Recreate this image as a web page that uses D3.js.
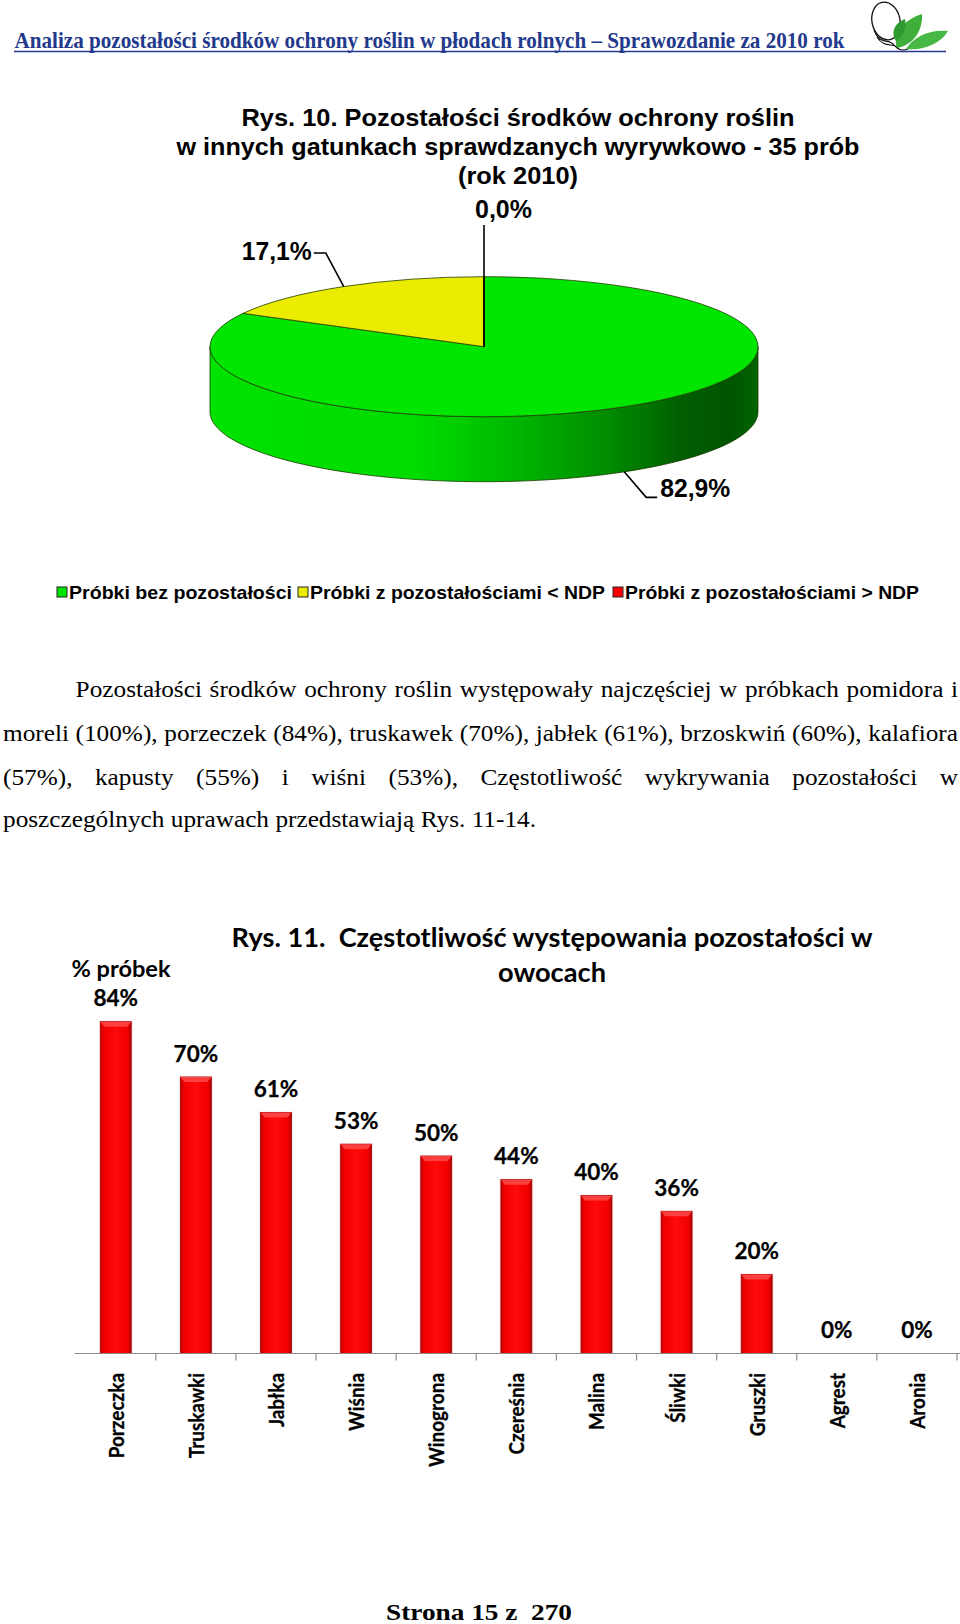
<!DOCTYPE html>
<html><head><meta charset="utf-8">
<script src="https://cdn.jsdelivr.net/npm/d3@7/dist/d3.min.js"></script>
<style>body{margin:0;background:#fff}svg{display:block}</style>
</head><body>
<svg id="c" width="960" height="1624"></svg>
<script>
// ---------------- DATA ----------------
const headerText = "Analiza pozostałości środków ochrony roślin w płodach rolnych – Sprawozdanie za 2010 rok";
const pieTitle = ["Rys. 10. Pozostałości środków ochrony roślin", "w innych gatunkach sprawdzanych wyrywkowo - 35 prób", "(rok 2010)"];
const pieLabels = ["Próbki bez pozostałości", "Próbki z pozostałościami < NDP", "Próbki z pozostałościami > NDP"];
const pieValues = [82.9, 17.1, 0.0];
const pieValueText = ["82,9%", "17,1%", "0,0%"];
const pieColors = ["#00E600", "#ECEC00", "#FF0000"];

const paragraphLines = [
  "Pozostałości środków ochrony roślin występowały najczęściej w próbkach pomidora i",
  "moreli (100%), porzeczek (84%), truskawek (70%), jabłek (61%), brzoskwiń (60%), kalafiora",
  "(57%), kapusty (55%) i wiśni (53%), Częstotliwość wykrywania pozostałości w",
  "poszczególnych uprawach przedstawiają Rys. 11-14."
];

const barTitle = ["Rys. 11.  Częstotliwość występowania pozostałości w", "owocach"];
const yAxisTitle = "% próbek";
const fruitCategories = ["Porzeczka", "Truskawki", "Jabłka", "Wiśnia", "Winogrona", "Czereśnia", "Malina", "Śliwki", "Gruszki", "Agrest", "Aronia"];
const fruitValues = [84, 70, 61, 53, 50, 44, 40, 36, 20, 0, 0];
const footerText = "Strona 15 z  270";

// ---------------- SETUP ----------------
const svg = d3.select("#c");
const defs = svg.append("defs");
const SANS = "'Liberation Sans', Arial, sans-serif";
const SERIF = "'Liberation Serif', 'Times New Roman', serif";
const CAL = "Lato, 'Open Sans', sans-serif";
svg.append("rect").attr("width", 960).attr("height", 1624).attr("fill", "#fff");

// ---------------- HEADER ----------------
const navy = "#22398c";
svg.append("text").attr("x", 14.5).attr("y", 47.5).text(headerText)
  .attr("font-family", SERIF).attr("font-weight", "bold").attr("font-size", 22.5)
  .attr("fill", navy).attr("textLength", 830).attr("lengthAdjust", "spacingAndGlyphs");
svg.append("line").attr("x1", 14).attr("x2", 946).attr("y1", 51.5).attr("y2", 51.5)
  .attr("stroke", navy).attr("stroke-width", 1.6);
// logo
const logo = svg.append("g");
logo.append("ellipse").attr("cx", 886).attr("cy", 21).attr("rx", 14).attr("ry", 19)
  .attr("transform", "rotate(-12,886,21)").attr("fill", "none").attr("stroke", "#111").attr("stroke-width", 1.3);
logo.append("path").attr("d", "M874,30 C880,46 889,38 894,45 C898,50 903,51 908,49 M877,37 C885,50 894,41 899,49")
  .attr("fill", "none").attr("stroke", "#111").attr("stroke-width", 1.1);
logo.append("path").attr("d", "M897,48 C892,34 903,20 922,14 C923,31 913,45 897,48 Z").attr("fill", "#3fae3a");
logo.append("path").attr("d", "M906,49 C914,36 931,29 948,31 C941,43 924,51 906,49 Z").attr("fill", "#46b843");
logo.append("path").attr("d", "M896,41 C890,32 895,23 905,19 C907,29 903,37 896,41 Z").attr("fill", "#2f9a2f");

// ---------------- PIE TITLE ----------------
const titleW = [553, 683, 120];
pieTitle.forEach((t, i) => {
  svg.append("text").attr("x", 518).attr("y", 126 + i * 29).attr("text-anchor", "middle").text(t)
    .attr("font-family", SANS).attr("font-weight", "bold").attr("font-size", 24.5)
    .attr("textLength", titleW[i]).attr("lengthAdjust", "spacingAndGlyphs");
});

// ---------------- 3D PIE ----------------
const cx = 484, cy = 346.7, rx = 274, ry = 70, depth = 65;
const pieData = d3.pie().sort(null).value(d => d)(pieValues);
const ell = a => [cx + rx * Math.sin(a), cy - ry * Math.cos(a)];

const sideGrad = defs.append("linearGradient").attr("id", "side")
  .attr("gradientUnits", "userSpaceOnUse").attr("x1", cx - rx).attr("x2", cx + rx).attr("y1", 0).attr("y2", 0);
[[0, "#00e200"], [0.38, "#00dc00"], [0.57, "#00b400"], [0.74, "#008800"], [0.86, "#005e00"], [0.95, "#005400"], [1, "#006400"]]
  .forEach(s => sideGrad.append("stop").attr("offset", s[0]).attr("stop-color", s[1]));

pieData.forEach((d, i) => {
  const a0 = Math.max(d.startAngle, Math.PI / 2), a1 = Math.min(d.endAngle, 3 * Math.PI / 2);
  if (a1 <= a0) return;
  const n = 80, top = [], bot = [];
  for (let j = 0; j <= n; j++) {
    const a = a0 + (a1 - a0) * j / n;
    const p = ell(a);
    top.push(p); bot.push([p[0], p[1] + depth]);
  }
  const pts = top.concat(bot.reverse());
  svg.append("path").attr("d", "M" + pts.map(p => p.join(",")).join("L") + "Z")
    .attr("fill", i === 0 ? "url(#side)" : d3.color(pieColors[i]).darker(0.8))
    .attr("stroke", "#1a3a00").attr("stroke-width", 0.8);
});
const arc = d3.arc().innerRadius(0).outerRadius(rx);
const topG = svg.append("g").attr("transform", `translate(${cx},${cy}) scale(1,${ry / rx})`);
topG.selectAll("path").data(pieData).join("path")
  .attr("d", arc).attr("fill", (d, i) => pieColors[i])
  .attr("stroke", "#1f3d00").attr("stroke-width", 0.8).attr("vector-effect", "non-scaling-stroke");

const labW = [70, 70, 57];
const lab = svg.append("g").attr("font-family", SANS).attr("font-weight", "bold").attr("font-size", 25);
pieData.forEach((d, i) => {
  const m = (d.startAngle + d.endAngle) / 2;
  if (d.value === 0) {
    lab.append("line").attr("x1", cx).attr("y1", cy).attr("x2", cx).attr("y2", 225)
      .attr("stroke", "#000").attr("stroke-width", 1.6);
    lab.append("text").attr("x", cx - 9).attr("y", 218).text(pieValueText[i])
      .attr("textLength", labW[i]).attr("lengthAdjust", "spacingAndGlyphs");
    return;
  }
  let [ex, ey] = ell(m);
  if (Math.cos(m) < 0) ey += depth;
  if (Math.sin(m) > 0) {
    const elx = ex + 22, ely = ey + 25.5;
    lab.append("path").attr("d", `M${ex},${ey}L${elx},${ely}L${elx + 11},${ely}`)
      .attr("fill", "none").attr("stroke", "#000").attr("stroke-width", 1.6);
    lab.append("text").attr("x", elx + 14).attr("y", ely).text(pieValueText[i])
      .attr("textLength", labW[i]).attr("lengthAdjust", "spacingAndGlyphs");
  } else {
    const elx = ex - 18, ely = ey - 33.5;
    lab.append("path").attr("d", `M${ex},${ey}L${elx},${ely}L${elx - 12},${ely}`)
      .attr("fill", "none").attr("stroke", "#000").attr("stroke-width", 1.6);
    lab.append("text").attr("x", elx - 14).attr("y", ely + 7).attr("text-anchor", "end").text(pieValueText[i])
      .attr("textLength", labW[i]).attr("lengthAdjust", "spacingAndGlyphs");
  }
});

// legend
const legX = [57, 298, 613], legW = [223, 295, 294];
const leg = svg.append("g");
pieLabels.forEach((t, i) => {
  leg.append("rect").attr("x", legX[i]).attr("y", 587).attr("width", 10).attr("height", 10)
    .attr("fill", pieColors[i]).attr("stroke", "#222").attr("stroke-width", 1);
  leg.append("text").attr("x", legX[i] + 12).attr("y", 599).text(t)
    .attr("font-family", SANS).attr("font-weight", "bold").attr("font-size", 19)
    .attr("textLength", legW[i]).attr("lengthAdjust", "spacingAndGlyphs");
});

// ---------------- PARAGRAPH ----------------
const pFont = 23;
const para = svg.append("g").attr("font-family", SERIF).attr("font-size", pFont).attr("fill", "#000");
const measure = str => { const t = para.append("text").text(str); const w = t.node().getComputedTextLength(); t.remove(); return w; };
const sx = 533 / measure(paragraphLines[3]);
const spaceW = measure("a b") - measure("ab");
const pBase = [697, 741, 784.5, 827];
const pStart = [75.6, 3, 3, 3];
paragraphLines.forEach((line, li) => {
  const words = line.split(" ");
  const nodes = words.map(w => para.append("text").text(w));
  const justify = li < 3;
  let s = sx;
  const widths = nodes.map(n => n.node().getComputedTextLength());
  const avail = 958 - pStart[li];
  if (justify && (d3.sum(widths) + spaceW * (words.length - 1)) * s > avail) {
    s = avail / (d3.sum(widths) + spaceW * (words.length - 1));
  }
  const tot = d3.sum(widths) * s;
  const gap = justify ? (avail - tot) / (words.length - 1) : spaceW * s;
  let xx = pStart[li];
  nodes.forEach((n, i) => {
    n.attr("transform", `translate(${xx},${pBase[li]}) scale(${s},1)`);
    xx += widths[i] * s + gap;
  });
});

// ---------------- BAR CHART ----------------
const bt = svg.append("g").attr("font-family", CAL).attr("font-weight", "bold").attr("fill", "#000");
bt.append("text").attr("x", 552).attr("y", 947).attr("text-anchor", "middle").style("white-space", "pre")
  .attr("font-size", 26).attr("textLength", 641).attr("lengthAdjust", "spacingAndGlyphs").text(barTitle[0]);
bt.append("text").attr("x", 552).attr("y", 982).attr("text-anchor", "middle")
  .attr("font-size", 26).attr("textLength", 108).attr("lengthAdjust", "spacingAndGlyphs").text(barTitle[1]);
bt.append("text").attr("x", 121).attr("y", 977).attr("text-anchor", "middle")
  .attr("font-size", 22.5).attr("textLength", 99).attr("lengthAdjust", "spacingAndGlyphs").text(yAxisTitle);

const x = d3.scaleBand().domain(fruitCategories).range([75.7, 957]).padding(0);
const y = d3.scaleLinear().domain([0, 100]).range([1353.5, 958.5]);
const bw = x.bandwidth() * 0.386;

const barGrad = defs.append("linearGradient").attr("id", "bar").attr("x1", 0).attr("x2", 1).attr("y1", 0).attr("y2", 0);
[[0, "#c40000"], [0.12, "#f00000"], [0.5, "#ff0a0a"], [0.88, "#f00000"], [1, "#b40000"]]
  .forEach(s => barGrad.append("stop").attr("offset", s[0]).attr("stop-color", s[1]));

const bars = svg.append("g");
fruitCategories.forEach((c, i) => {
  const v = fruitValues[i];
  if (v <= 0) return;
  const x0 = x(c) + (x.bandwidth() - bw) / 2, x1 = x0 + bw, top = y(v), base = y(0);
  bars.append("rect").attr("x", x0 - 1.5).attr("y", top - 1).attr("width", bw + 3).attr("height", base - top + 1)
    .attr("fill", "#ffd6d6").attr("opacity", 0.6);
  bars.append("rect").attr("x", x0).attr("y", top).attr("width", bw).attr("height", base - top)
    .attr("fill", "url(#bar)").attr("stroke", "#a00000").attr("stroke-width", 0.8);
  bars.append("path").attr("d", `M${x0},${top}L${x1},${top}L${x1 - 4},${top + 5}L${x0 + 4},${top + 5}Z`)
    .attr("fill", "#ff4a4a").attr("opacity", 0.85);
});

const ax = svg.append("g").attr("stroke", "#8c8c8c").attr("stroke-width", 1.2);
ax.append("line").attr("x1", 74.5).attr("x2", 960).attr("y1", y(0)).attr("y2", y(0));
fruitCategories.slice(1).concat([null]).forEach(c => {
  const bx = c ? x(c) : x.range()[1];
  ax.append("line").attr("x1", bx).attr("x2", bx).attr("y1", y(0)).attr("y2", y(0) + 7);
});

const vl = svg.append("g").attr("font-family", CAL).attr("font-weight", "bold").attr("font-size", 22.5)
  .attr("text-anchor", "middle").attr("stroke", "#000").attr("stroke-width", 0.25);
fruitCategories.forEach((c, i) => {
  vl.append("text").attr("x", x(c) + x.bandwidth() / 2).attr("y", y(fruitValues[i]) - 15.5).text(fruitValues[i] + "%");
});

const cl = svg.append("g").attr("font-family", CAL).attr("font-weight", "bold").attr("font-size", 21.5)
  .attr("text-anchor", "end").attr("stroke", "#000").attr("stroke-width", 0.3);
fruitCategories.forEach(c => {
  const cxp = x(c) + x.bandwidth() / 2 + 8;
  cl.append("text").attr("transform", `translate(${cxp},1373) rotate(-90) scale(0.88,1)`).text(c);
});

svg.append("text").attr("x", 479).attr("y", 1620).attr("text-anchor", "middle").style("white-space", "pre")
  .attr("font-family", SERIF).attr("font-weight", "bold").attr("font-size", 23)
  .attr("textLength", 186).attr("lengthAdjust", "spacingAndGlyphs").text(footerText);
</script>
</body></html>
